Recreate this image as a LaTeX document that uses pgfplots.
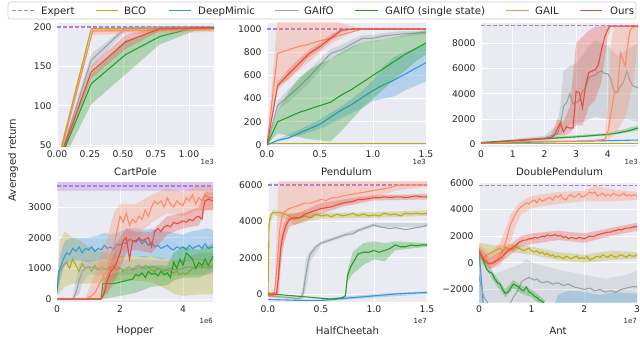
\documentclass[border=0pt]{standalone}
\usepackage{fontspec}
\setmainfont{DejaVu Sans}
\usepackage{pgfplots}
\pgfplotsset{compat=1.18}

\definecolor{bgc}{RGB}{234,234,242}
\definecolor{labc}{RGB}{38,38,38}
\definecolor{lgray}{RGB}{204,204,204}
\definecolor{cexp}{RGB}{176,122,220}
\definecolor{cbco}{RGB}{180,172,24}
\definecolor{cdm}{RGB}{52,152,219}
\definecolor{cgf}{RGB}{149,165,166}
\definecolor{cgs}{RGB}{34,160,34}
\definecolor{cgail}{RGB}{255,138,101}
\definecolor{cours}{RGB}{231,76,60}

\newcommand\tickfont{\fontsize{9.2}{11}\selectfont}
\newcommand\titlefont{\fontsize{10.2}{12}\selectfont}

\tikzset{
  offs/.style={font=\fontsize{7}{8}\selectfont, text=labc, anchor=north east, inner sep=0pt},
  legtxt/.style={font=\titlefont, text=labc, anchor=base west, inner sep=0pt},
}

\pgfplotsset{
  panel/.style={
    scale only axis, anchor=north west,
    axis background/.style={fill=bgc},
    axis line style={draw=none},
    tick style={draw=none}, major tick length=0pt,
    grid=major, grid style={white, line width=0.8pt},
    tick label style={font=\tickfont, text=labc},
    yticklabel style={xshift=-2pt},
    xlabel style={font=\titlefont, text=labc, at={(axis description cs:0.5,0)}, anchor=center},
    scaled ticks=false,
  },
  band/.style={draw=none, fill=#1, fill opacity=0.3, forget plot},
  ln/.style={draw=#1, line width=1.1pt, forget plot},
  exp/.style={draw=cexp, line width=1.1pt, dash pattern=on 4pt off 2pt, forget plot},
}

\begin{document}
\begin{tikzpicture}
\path[use as bounding box] (0pt,0pt) rectangle (640pt,356pt);

% legend
\draw[lgray, fill=white, rounded corners=2.5pt, line width=0.6pt] (8pt,337pt) rectangle (636pt,354pt);
\draw[cexp, line width=1.4pt, dash pattern=on 4pt off 2pt] (12pt,345.5pt) -- (35pt,345.5pt);
\node[legtxt] at (41pt,341.8pt) {Expert};
\draw[cbco, line width=1.4pt] (96pt,345.5pt) -- (118pt,345.5pt);
\node[legtxt] at (124pt,341.8pt) {BCO};
\draw[cdm, line width=1.4pt] (169pt,345.5pt) -- (191pt,345.5pt);
\node[legtxt] at (198pt,341.8pt) {DeepMimic};
\draw[cgf, line width=1.4pt] (275pt,345.5pt) -- (298pt,345.5pt);
\node[legtxt] at (304pt,341.8pt) {GAIfO};
\draw[cgs, line width=1.4pt] (355pt,345.5pt) -- (378pt,345.5pt);
\node[legtxt] at (385pt,341.8pt) {GAIfO (single state)};
\draw[cgail, line width=1.4pt] (506pt,345.5pt) -- (529pt,345.5pt);
\node[legtxt] at (535pt,341.8pt) {GAIL};
\draw[cours, line width=1.4pt] (580pt,345.5pt) -- (602pt,345.5pt);
\node[legtxt] at (610pt,341.8pt) {Ours};

\node[rotate=90, font=\titlefont, text=labc] at (13pt,196pt) {Averaged return};

% ---------------- CartPole
\begin{axis}[panel, at={(57pt,333pt)}, width=157pt, height=124pt,
  xmin=0, xmax=1.19, ymin=47.5, ymax=205.1,
  xtick={0,0.25,0.5,0.75,1}, xticklabels={0.00,0.25,0.50,0.75,1.00},
  ytick={50,100,150,200}, yticklabels={50,100,150,200},
  xlabel={CartPole}, xlabel style={yshift=-25pt},
  extra description/.code={\node[offs] at (1,0) [yshift=-12pt] {1e3};},
]
\addplot[exp] coordinates {(0,200)(1.19,200)};
\addplot[band=cbco] coordinates {(0,30)(0.26,200)(0.52,200)(0.78,200)(1.04,200)(1.19,200)(1.19,195)(1.04,195)(0.78,194.5)(0.52,194)(0.26,194)(0,20)};
\addplot[ln=cbco] coordinates {(0,25)(0.26,198)(0.52,198)(0.78,198)(1.04,198)(1.19,198)};
\addplot[band=cgf] coordinates {(0,25)(0.26,166)(0.52,200)(0.78,200)(1.04,200)(1.19,200)(1.19,199.5)(1.04,199.5)(0.78,199)(0.52,195)(0.26,148)(0,18)};
\addplot[ln=cgf] coordinates {(0,22)(0.26,158)(0.52,199)(0.78,200)(1.04,200)(1.19,200)};
\addplot[band=cgs] coordinates {(0,28)(0.26,140)(0.52,183)(0.78,197)(1.04,200)(1.19,200)(1.19,196)(1.04,195)(0.78,178)(0.52,140)(0.26,102)(0,15)};
\addplot[ln=cgs] coordinates {(0,22)(0.26,128)(0.52,165)(0.78,188)(1.04,199)(1.19,199)};
\addplot[band=cgail] coordinates {(0,26)(0.27,199)(0.52,199)(0.78,199.5)(1.04,200)(1.19,200)(1.19,194)(1.04,193)(0.78,192)(0.52,191)(0.27,190)(0,18)};
\addplot[ln=cgail] coordinates {(0,22)(0.27,195)(0.52,195.5)(0.78,196)(1.04,196.5)(1.19,197)};
\addplot[band=cours] coordinates {(0,25)(0.26,151)(0.52,190)(0.78,200)(1.04,200)(1.19,200)(1.19,198)(1.04,197.5)(0.78,195)(0.52,172)(0.26,135)(0,19)};
\addplot[ln=cours] coordinates {(0,22)(0.26,143)(0.52,181)(0.78,198)(1.04,199)(1.19,199)};
\end{axis}

% ---------------- Pendulum
\begin{axis}[panel, at={(267pt,333pt)}, width=159pt, height=124pt,
  xmin=0, xmax=1.5, ymin=-17, ymax=1052,
  xtick={0,0.5,1,1.5}, xticklabels={0.0,0.5,1.0,1.5},
  ytick={0,200,400,600,800,1000}, yticklabels={0,200,400,600,800,1000},
  xlabel={Pendulum}, xlabel style={yshift=-25pt},
  extra description/.code={\node[offs] at (1,0) [yshift=-12pt] {1e3};},
]
\addplot[exp] coordinates {(0,1000)(1.5,1000)};
\addplot[ln=cbco] coordinates {(0,15)(1.5,15)};
\addplot[band=cdm] coordinates {(0,0)(0.1,50)(0.3,130)(0.5,220)(0.7,330)(0.9,470)(1.0,560)(1.1,680)(1.2,760)(1.3,800)(1.4,830)(1.5,870)(1.5,550)(1.4,510)(1.3,470)(1.2,420)(1.1,400)(1.0,380)(0.9,320)(0.7,230)(0.5,140)(0.3,80)(0.1,30)(0,0)};
\addplot[ln=cdm] coordinates {(0,0)(0.1,40)(0.2,60)(0.3,100)(0.4,140)(0.5,180)(0.6,240)(0.7,300)(0.8,350)(0.9,410)(1.0,470)(1.1,520)(1.2,560)(1.3,610)(1.4,660)(1.5,710)};
\addplot[band=cgf] coordinates {(0,0)(0.1,380)(0.2,480)(0.3,560)(0.4,650)(0.5,740)(0.6,830)(0.7,860)(0.8,910)(0.9,950)(1.0,950)(1.1,965)(1.2,975)(1.3,985)(1.4,985)(1.5,990)(1.5,950)(1.4,945)(1.3,935)(1.2,925)(1.1,910)(1.0,890)(0.9,880)(0.8,830)(0.7,780)(0.6,740)(0.5,640)(0.4,540)(0.3,450)(0.2,370)(0.1,300)(0,0)};
\addplot[ln=cgf] coordinates {(0,0)(0.1,340)(0.2,420)(0.3,500)(0.4,590)(0.5,690)(0.6,790)(0.7,820)(0.8,870)(0.9,920)(1.0,920)(1.1,940)(1.2,950)(1.3,960)(1.4,965)(1.5,970)};
\addplot[band=cgs] coordinates {(0,0)(0.1,300)(0.2,450)(0.3,580)(0.4,650)(0.5,700)(0.6,740)(0.7,800)(0.8,850)(0.9,880)(1.0,900)(1.1,910)(1.2,930)(1.3,950)(1.4,970)(1.5,990)(1.5,780)(1.4,720)(1.3,640)(1.2,560)(1.1,480)(1.0,400)(0.9,320)(0.8,220)(0.7,120)(0.6,30)(0.5,40)(0.4,50)(0.3,70)(0.2,80)(0.1,100)(0,0)};
\addplot[ln=cgs] coordinates {(0,0)(0.1,200)(0.2,240)(0.3,280)(0.4,310)(0.5,340)(0.6,370)(0.7,430)(0.8,480)(0.9,540)(1.0,600)(1.1,660)(1.2,720)(1.3,780)(1.4,830)(1.5,880)};
\addplot[band=cgail] coordinates {(0,0)(0.1,1100)(0.5,1100)(0.7,1050)(0.9,1000)(1.5,1000)(1.5,1000)(0.9,1000)(0.8,970)(0.7,920)(0.6,870)(0.5,800)(0.4,720)(0.3,640)(0.2,560)(0.1,520)(0,0)};
\addplot[ln=cgail] coordinates {(0,0)(0.1,790)(0.2,820)(0.3,850)(0.4,870)(0.5,900)(0.6,920)(0.7,950)(0.8,975)(0.9,1000)(1.5,1000)};
\addplot[band=cours] coordinates {(0,0)(0.1,540)(0.2,650)(0.3,740)(0.4,820)(0.5,880)(0.6,950)(0.7,1000)(1.5,1000)(1.5,1000)(0.8,995)(0.7,975)(0.6,900)(0.5,820)(0.4,760)(0.3,660)(0.2,570)(0.1,480)(0,0)};
\addplot[ln=cours] coordinates {(0,0)(0.1,510)(0.2,610)(0.3,700)(0.4,790)(0.5,850)(0.6,920)(0.7,990)(0.8,1000)(1.5,1000)};
\end{axis}

% ---------------- DoublePendulum
\begin{axis}[panel, at={(481pt,333pt)}, width=157pt, height=124pt,
  xmin=0, xmax=4.95, ymin=-200, ymax=9600,
  xtick={0,1,2,3,4}, xticklabels={0,1,2,3,4},
  ytick={0,2000,4000,6000,8000}, yticklabels={0,2000,4000,6000,8000},
  xlabel={DoublePendulum}, xlabel style={yshift=-25pt},
  extra description/.code={\node[offs] at (1,0) [yshift=-12pt] {1e3};},
]
\addplot[exp] coordinates {(0,9370)(4.95,9370)};
\addplot[ln=cbco] coordinates {(0,80)(4.95,80)};
\addplot[ln=cdm] coordinates {(0,100)(1,150)(2,200)(3,250)(4,300)(4.95,350)};
\addplot[band=cgf] coordinates {(0,150)(2.0,700)(2.4,1500)(2.5,3000)(2.6,5800)(2.8,6200)(3.0,6400)(3.2,7000)(3.4,7800)(3.6,8200)(3.8,8000)(4.0,7800)(4.3,7000)(4.6,7500)(4.95,8000)(4.95,1800)(4.6,2000)(4.3,2000)(4.0,2000)(3.6,2200)(3.2,1800)(3.0,1700)(2.8,1600)(2.6,1200)(2.5,600)(2.4,500)(2.0,300)(0,50)};
\addplot[ln=cgf] coordinates {(0,100)(1,250)(1.5,350)(2,500)(2.2,700)(2.4,800)(2.5,1500)(2.6,3000)(2.7,3300)(2.8,4000)(2.9,3200)(3.0,3300)(3.1,3500)(3.2,4200)(3.3,4500)(3.4,5300)(3.5,5400)(3.6,5500)(3.7,5700)(3.8,5800)(3.9,5600)(4.0,5600)(4.1,5100)(4.2,4200)(4.3,4100)(4.4,4600)(4.5,5000)(4.6,5800)(4.7,5000)(4.8,4600)(4.95,4500)};
\addplot[band=cgs] coordinates {(0,200)(4,900)(4.95,1500)(4.95,1100)(4,700)(0,100)};
\addplot[ln=cgs] coordinates {(0,150)(1,300)(2,450)(3,600)(3.5,700)(4,800)(4.3,900)(4.6,1050)(4.95,1300)};
\addplot[band=cgail] coordinates {(3.8,350)(3.9,500)(4.0,3000)(4.1,8000)(4.2,9300)(4.95,9400)(4.95,8000)(4.8,5000)(4.6,2500)(4.4,1500)(4.2,800)(4.0,300)(3.8,200)};
\addplot[ln=cgail] coordinates {(0,100)(1,200)(2,250)(3,250)(3.5,300)(3.9,400)(4.0,1000)(4.1,2500)(4.2,4000)(4.3,4200)(4.4,7200)(4.5,6500)(4.55,6200)(4.6,7500)(4.7,9000)(4.8,9300)(4.95,9300)};
\addplot[band=cours] coordinates {(2.2,600)(2.4,2000)(2.6,1800)(2.8,3000)(3.0,8000)(3.2,8500)(3.4,9000)(3.6,9300)(4.0,9400)(4.95,9400)(4.95,9300)(4.1,9300)(4.0,8500)(3.8,5000)(3.6,3500)(3.4,3000)(3.2,1500)(3.0,1500)(2.8,900)(2.6,700)(2.4,800)(2.2,450)};
\addplot[ln=cours] coordinates {(0,100)(0.5,200)(1,300)(1.5,400)(2,480)(2.2,550)(2.3,700)(2.4,1200)(2.5,1700)(2.6,1000)(2.7,1400)(2.8,1300)(2.9,1300)(3.0,4200)(3.1,4100)(3.2,2900)(3.3,4700)(3.4,5700)(3.5,5800)(3.6,5900)(3.7,6300)(3.8,7500)(3.9,8500)(4.0,9100)(4.05,9350)(4.95,9350)};
\end{axis}

% ---------------- Hopper
\begin{axis}[panel, at={(57pt,174pt)}, width=156pt, height=120pt,
  xmin=0, xmax=4.95, ymin=-98, ymax=3815,
  xtick={0,2,4}, xticklabels={0,2,4},
  ytick={0,1000,2000,3000}, yticklabels={0,1000,2000,3000},
  xlabel={Hopper}, xlabel style={yshift=-29pt},
  extra description/.code={\node[offs] at (1,0) [yshift=-16pt] {1e6};},
]
\addplot[band=cexp] coordinates {(0,3800)(4.95,3800)(4.95,3530)(0,3530)};
\addplot[exp] coordinates {(0,3684)(4.95,3684)};
\addplot[band=cbco] coordinates {(0,600)(0.1,1900)(0.25,2200)(0.5,2000)(0.75,1900)(1.0,1700)(1.25,1600)(1.5,1500)(1.75,1500)(2.0,1400)(2.5,1400)(3.0,1400)(3.5,1300)(3.75,1200)(4.0,1300)(4.5,1500)(4.95,1500)(4.95,150)(4.5,150)(4.0,100)(3.75,150)(3.5,300)(3.0,550)(2.5,600)(2.0,600)(1.5,550)(1.0,500)(0.5,500)(0.25,400)(0,100)};
\addplot[ln=cbco] coordinates {(0,300)(0.1,900)(0.2,1100)(0.3,1200)(0.4,1000)(0.5,1300)(0.6,1100)(0.7,900)(0.8,1150)(0.9,1000)(1.0,1050)(1.1,900)(1.2,1100)(1.3,950)(1.4,1050)(1.5,1000)(1.6,950)(1.7,1000)(1.8,1050)(1.9,950)(2.0,1000)(2.1,900)(2.2,1000)(2.3,1050)(2.4,950)(2.5,1000)(2.6,1050)(2.7,1000)(2.8,1100)(2.9,1050)(3.0,950)(3.1,900)(3.2,1000)(3.3,950)(3.4,900)(3.5,950)(3.6,900)(3.7,850)(3.8,900)(3.9,800)(4.0,850)(4.1,800)(4.2,900)(4.3,1000)(4.4,1050)(4.5,1100)(4.6,1000)(4.7,1150)(4.8,1050)(4.95,1100)};
\addplot[band=cdm] coordinates {(0,300)(0.1,1400)(0.25,1900)(0.5,2000)(0.75,2000)(1.0,2000)(1.25,2050)(1.5,2150)(1.75,2100)(2.0,2200)(2.25,2300)(2.5,2300)(2.75,2250)(3.0,2300)(3.25,2200)(3.5,2200)(3.75,2150)(4.0,2100)(4.25,2200)(4.5,2250)(4.75,2300)(4.95,2250)(4.95,1250)(4.75,1250)(4.5,1250)(4.25,1250)(4.0,1200)(3.75,1200)(3.5,1300)(3.25,1300)(3.0,1400)(2.75,1350)(2.5,1400)(2.25,1400)(2.0,1350)(1.75,1250)(1.5,1300)(1.25,1250)(1.0,1200)(0.75,1250)(0.5,1250)(0.25,1100)(0.1,600)(0,100)};
\addplot[ln=cdm] coordinates {(0,200)(0.05,900)(0.1,1000)(0.2,1300)(0.3,1500)(0.4,1450)(0.5,1650)(0.6,1550)(0.7,1700)(0.8,1500)(0.9,1650)(1.0,1600)(1.1,1700)(1.2,1550)(1.3,1650)(1.4,1600)(1.5,1750)(1.6,1650)(1.7,1700)(1.8,1600)(1.9,1800)(2.0,1750)(2.1,1850)(2.2,1800)(2.3,1950)(2.4,1900)(2.5,1850)(2.6,1950)(2.7,1800)(2.8,1900)(2.9,1750)(3.0,1850)(3.1,1700)(3.2,1750)(3.3,1650)(3.4,1700)(3.5,1750)(3.6,1650)(3.7,1600)(3.8,1700)(3.9,1650)(4.0,1700)(4.1,1600)(4.2,1750)(4.3,1650)(4.4,1700)(4.5,1750)(4.6,1650)(4.7,1800)(4.8,1650)(4.95,1700)};
\addplot[band=cgf] coordinates {(0,0)(0.5,50)(0.6,600)(0.7,1100)(0.8,1300)(1.5,1250)(2.5,1300)(3.5,1250)(4.95,1300)(4.95,800)(3.5,750)(2.5,800)(1.5,750)(1.0,800)(0.8,500)(0.7,150)(0.5,0)(0,0)};
\addplot[ln=cgf] coordinates {(0,0)(0.5,0)(0.6,200)(0.7,600)(0.8,900)(0.9,1000)(1.0,1050)(1.2,1000)(1.4,950)(1.6,1000)(1.8,1100)(2.0,1000)(2.2,950)(2.4,1000)(2.6,1100)(2.8,1000)(3.0,1050)(3.2,1000)(3.4,950)(3.6,1000)(3.8,950)(4.0,1000)(4.2,1050)(4.4,1000)(4.6,1050)(4.8,1000)(4.95,1050)};
\addplot[band=cgs] coordinates {(1.4,0)(1.45,700)(2.0,900)(2.5,1000)(3.0,1100)(3.5,1100)(3.7,1500)(4.0,1700)(4.5,1600)(4.95,1800)(4.95,900)(4.5,700)(4.0,700)(3.7,600)(3.5,450)(3.0,400)(2.5,200)(2.0,100)(1.45,0)(1.4,0)};
\addplot[ln=cgs] coordinates {(0,0)(1.4,0)(1.45,500)(1.6,500)(1.8,500)(2.0,550)(2.2,600)(2.4,650)(2.5,800)(2.6,750)(2.7,850)(2.8,700)(2.9,900)(3.0,800)(3.1,850)(3.2,750)(3.3,900)(3.4,800)(3.5,850)(3.6,700)(3.7,1200)(3.8,1000)(3.9,1300)(4.0,1100)(4.1,1500)(4.2,1400)(4.3,1300)(4.4,1000)(4.5,1200)(4.6,1100)(4.7,1300)(4.8,1100)(4.95,1400)};
\addplot[band=cgail] coordinates {(0.9,0)(1.0,300)(1.2,800)(1.4,1500)(1.6,2000)(1.8,2800)(2.0,3100)(2.5,3100)(3.0,3400)(3.5,3600)(4.0,3500)(4.5,3700)(4.95,3700)(4.95,2900)(4.5,2900)(4.0,2700)(3.5,2800)(3.0,2500)(2.5,2000)(2.0,1500)(1.8,800)(1.6,200)(1.4,0)(0.9,0)};
\addplot[ln=cgail] coordinates {(0,0)(0.9,0)(1.0,50)(1.1,100)(1.2,200)(1.3,400)(1.4,600)(1.5,800)(1.6,1000)(1.7,1400)(1.8,1700)(1.9,2200)(2.0,2700)(2.1,2500)(2.2,2800)(2.3,2400)(2.4,2600)(2.5,2500)(2.6,2700)(2.7,2600)(2.8,2900)(2.9,2700)(3.0,3000)(3.1,3200)(3.2,3100)(3.3,3200)(3.4,3000)(3.5,3300)(3.6,3100)(3.7,3000)(3.8,3200)(3.9,3100)(4.0,3050)(4.1,3300)(4.2,3200)(4.3,3400)(4.4,3100)(4.5,3300)(4.6,3200)(4.7,3400)(4.8,3300)(4.95,3300)};
\addplot[band=cours] coordinates {(1.4,0)(1.6,900)(1.8,1500)(2.0,2000)(2.2,2300)(2.5,2200)(3.0,2200)(3.5,2700)(4.0,2800)(4.5,3000)(4.7,3500)(4.95,3500)(4.95,2900)(4.7,2900)(4.5,2400)(4.0,2300)(3.5,2100)(3.0,1500)(2.5,1600)(2.2,1500)(2.0,1000)(1.8,500)(1.6,200)(1.4,0)};
\addplot[ln=cours] coordinates {(0,0)(1.4,0)(1.5,200)(1.6,600)(1.7,900)(1.8,1000)(1.9,1200)(2.0,1500)(2.1,1900)(2.2,2000)(2.3,1300)(2.4,1900)(2.5,1900)(2.6,2000)(2.7,1900)(2.8,1950)(2.9,2000)(3.0,1700)(3.1,2200)(3.2,2300)(3.3,2200)(3.4,2350)(3.5,2400)(3.6,2350)(3.7,2500)(3.8,2450)(3.9,2500)(4.0,2550)(4.1,2500)(4.2,2600)(4.3,2550)(4.4,2650)(4.5,2700)(4.6,2600)(4.65,3000)(4.7,3200)(4.8,3250)(4.95,3200)};
\end{axis}

% ---------------- HalfCheetah
\begin{axis}[panel, at={(268pt,174pt)}, width=159pt, height=120pt,
  xmin=0, xmax=1.5, ymin=-440, ymax=6165,
  xtick={0,0.5,1,1.5}, xticklabels={0.0,0.5,1.0,1.5},
  ytick={0,2000,4000,6000}, yticklabels={0,2000,4000,6000},
  xlabel={HalfCheetah}, xlabel style={yshift=-29pt},
  extra description/.code={\node[offs] at (1,0) [yshift=-16pt] {1e7};},
]
\addplot[exp] coordinates {(0,6000)(1.5,6000)};
\addplot[band=cbco] coordinates {(0,0)(0.01,4200)(0.05,4650)(0.2,4450)(0.25,4400)(0.3,4500)(0.5,4450)(1.0,4500)(1.5,4600)(1.5,4300)(1.0,4200)(0.5,4150)(0.3,3900)(0.25,3800)(0.2,4100)(0.05,4350)(0.01,3600)(0,-200)};
\addplot[ln=cbco] coordinates {(0,-100)(0.01,3900)(0.03,4400)(0.05,4500)(0.08,4450)(0.1,4500)(0.15,4400)(0.2,4300)(0.25,4100)(0.3,4200)(0.35,4300)(0.4,4200)(0.45,4400)(0.5,4300)(0.55,4350)(0.6,4250)(0.65,4400)(0.7,4300)(0.75,4350)(0.8,4450)(0.85,4300)(0.9,4400)(0.95,4300)(1.0,4350)(1.05,4300)(1.1,4450)(1.15,4350)(1.2,4400)(1.25,4300)(1.3,4450)(1.35,4400)(1.4,4450)(1.45,4400)(1.5,4450)};
\addplot[band=cdm] coordinates {(0.5,-250)(1.0,0)(1.5,150)(1.5,0)(1.0,-200)(0.5,-400)};
\addplot[ln=cdm] coordinates {(0,-300)(0.3,-350)(0.5,-350)(0.6,-300)(0.7,-250)(0.8,-200)(0.9,-150)(1.0,-100)(1.1,-50)(1.2,0)(1.3,30)(1.4,60)(1.5,80)};
\addplot[band=cgf] coordinates {(0,-50)(0.3,-150)(0.33,400)(0.36,2000)(0.4,2400)(0.5,2900)(1.0,3900)(1.5,3900)(1.5,3700)(1.0,3700)(0.5,2700)(0.4,1800)(0.36,300)(0.33,-300)(0.3,-350)(0,-150)};
\addplot[ln=cgf] coordinates {(0,-100)(0.1,-150)(0.2,-200)(0.3,-250)(0.33,0)(0.35,800)(0.38,1800)(0.4,2200)(0.45,2600)(0.5,2800)(0.55,2900)(0.6,3000)(0.65,3100)(0.7,3200)(0.75,3300)(0.8,3300)(0.85,3500)(0.9,3600)(0.95,3700)(1.0,3800)(1.05,3700)(1.1,3650)(1.15,3600)(1.2,3650)(1.25,3600)(1.3,3550)(1.35,3600)(1.4,3650)(1.45,3700)(1.5,3800)};
\addplot[band=cgs] coordinates {(0.73,-50)(0.75,1300)(0.8,2300)(0.9,2800)(1.0,2900)(1.1,2800)(1.2,2900)(1.5,2800)(1.5,2600)(1.2,2400)(1.1,1800)(1.0,1900)(0.9,1600)(0.8,1100)(0.75,700)(0.73,-150)};
\addplot[ln=cgs] coordinates {(0,0)(0.1,-30)(0.2,-80)(0.3,-130)(0.4,-180)(0.5,-230)(0.6,-280)(0.65,-250)(0.7,-200)(0.73,-100)(0.75,1000)(0.78,1500)(0.8,1700)(0.83,2000)(0.85,2200)(0.9,2300)(0.95,2300)(1.0,2400)(1.05,2300)(1.1,2400)(1.15,2500)(1.2,2700)(1.25,2600)(1.3,2600)(1.35,2700)(1.4,2650)(1.45,2700)(1.5,2700)};
\addplot[band=cgail] coordinates {(0,0)(0.06,0)(0.08,3000)(0.1,6300)(1.5,6300)(1.5,5900)(1.2,5700)(1.0,5300)(0.8,5000)(0.5,4700)(0.3,4300)(0.2,4000)(0.13,2500)(0.1,500)(0.08,-200)(0,-200)};
\addplot[ln=cgail] coordinates {(0,-100)(0.05,-100)(0.07,500)(0.09,2000)(0.11,3500)(0.13,4200)(0.15,4500)(0.2,4700)(0.25,4800)(0.3,4900)(0.35,5000)(0.4,5000)(0.45,5100)(0.5,5200)(0.55,5150)(0.6,5300)(0.65,5300)(0.7,5400)(0.75,5450)(0.8,5500)(0.85,5550)(0.9,5600)(0.95,5650)(1.0,5700)(1.05,5750)(1.1,5800)(1.15,5850)(1.2,5950)(1.25,6000)(1.5,6000)};
\addplot[band=cours] coordinates {(0,100)(0.08,100)(0.1,2000)(0.12,3300)(0.15,3900)(0.2,4400)(0.3,4500)(0.5,5000)(0.7,5200)(1.0,5450)(1.5,5500)(1.5,5200)(1.0,5150)(0.7,4800)(0.5,4400)(0.3,3900)(0.2,3700)(0.15,2800)(0.12,1500)(0.1,0)(0.08,-100)(0,-100)};
\addplot[ln=cours] coordinates {(0,0)(0.08,0)(0.1,1000)(0.12,2500)(0.14,3200)(0.17,3800)(0.2,4100)(0.25,4200)(0.3,4200)(0.35,4400)(0.4,4500)(0.45,4600)(0.5,4700)(0.55,4750)(0.6,4800)(0.65,4900)(0.7,5000)(0.75,5050)(0.8,5100)(0.85,5200)(0.9,5200)(0.95,5250)(1.0,5300)(1.05,5300)(1.1,5350)(1.15,5300)(1.2,5350)(1.25,5350)(1.3,5300)(1.35,5350)(1.4,5400)(1.45,5350)(1.5,5350)};
\end{axis}

% ---------------- Ant
\begin{axis}[panel, at={(479pt,174pt)}, width=158pt, height=120pt,
  xmin=0, xmax=3, ymin=-2940, ymax=6050,
  xtick={0,1,2,3}, xticklabels={0,1,2,3},
  ytick={-2000,0,2000,4000,6000}, yticklabels={−2000,0,2000,4000,6000},
  xlabel={Ant}, xlabel style={yshift=-29pt},
  extra description/.code={\node[offs] at (1,0) [yshift=-16pt] {1e7};},
]
\addplot[exp] coordinates {(0,5760)(3,5760)};
\addplot[band=cbco] coordinates {(0,1500)(0.3,1300)(0.6,1400)(1.0,1200)(1.5,800)(2.0,600)(2.5,900)(3.0,800)(3.0,300)(2.5,200)(2.0,0)(1.5,200)(1.0,600)(0.6,800)(0.3,500)(0,-300)};
\addplot[ln=cbco] coordinates {(0,500)(0.05,300)(0.1,400)(0.15,600)(0.2,700)(0.25,800)(0.3,900)(0.35,1000)(0.4,1100)(0.45,900)(0.5,1200)(0.55,1000)(0.6,1100)(0.65,1000)(0.7,1200)(0.75,1100)(0.8,1000)(0.85,900)(0.9,1000)(0.95,1100)(1.0,900)(1.05,800)(1.1,900)(1.15,700)(1.2,800)(1.25,600)(1.3,700)(1.35,500)(1.4,600)(1.45,400)(1.5,500)(1.55,400)(1.6,300)(1.65,500)(1.7,400)(1.75,300)(1.8,400)(1.85,500)(1.9,300)(1.95,400)(2.0,300)(2.05,500)(2.1,200)(2.15,300)(2.2,400)(2.25,500)(2.3,400)(2.35,600)(2.4,500)(2.45,400)(2.5,600)(2.55,500)(2.6,400)(2.65,500)(2.7,600)(2.75,500)(2.8,400)(2.85,600)(2.9,500)(2.95,500)(3.0,600)};
\addplot[band=cdm] coordinates {(0,1100)(0.03,-300)(0.06,-1800)(0.09,-3500)(0,-3500)};
\addplot[band=cdm] coordinates {(1.4,-3500)(1.5,-2400)(1.7,-2100)(2.0,-2200)(2.3,-2400)(2.6,-2200)(3.0,-2300)(3.0,-3500)};
\addplot[ln=cdm] coordinates {(0,900)(0.03,-500)(0.06,-2000)(0.09,-3500)};
\addplot[band=cgf, fill opacity=0.22] coordinates {(0,1000)(0.2,-1000)(0.5,-500)(0.8,-100)(0.9,300)(1.0,0)(1.3,-300)(1.6,-600)(2.0,-900)(2.4,-1200)(2.8,-900)(3.0,-600)(3.0,-3500)(0,-3500)};
\addplot[ln=cgf] coordinates {(0,-1000)(0.05,-2000)(0.1,-2600)(0.15,-2900)(0.2,-3200)(0.4,-3300)(0.6,-3000)(0.65,-2600)(0.7,-2300)(0.75,-2000)(0.8,-1500)(0.85,-1300)(0.9,-1200)(0.95,-1100)(1.0,-1200)(1.05,-1300)(1.1,-1200)(1.15,-1400)(1.2,-1500)(1.3,-1400)(1.4,-1600)(1.5,-1500)(1.6,-1700)(1.7,-1600)(1.8,-1800)(1.9,-1900)(2.0,-2000)(2.1,-1900)(2.2,-2100)(2.3,-2000)(2.4,-2200)(2.5,-2100)(2.6,-2200)(2.7,-2000)(2.8,-1900)(2.9,-1800)(3.0,-1800)};
\addplot[band=cgs] coordinates {(0,1100)(0.1,300)(0.3,-900)(0.5,-2000)(0.65,-1300)(0.8,-1700)(1.0,-2000)(1.25,-2800)(1.25,-3400)(1.0,-2600)(0.8,-2300)(0.65,-1900)(0.5,-2600)(0.3,-1500)(0.1,-300)(0,700)};
\addplot[ln=cgs] coordinates {(0,900)(0.05,500)(0.1,0)(0.15,-500)(0.2,-700)(0.25,-800)(0.3,-1200)(0.35,-1500)(0.4,-1600)(0.45,-2000)(0.5,-2300)(0.55,-2200)(0.6,-1900)(0.65,-1600)(0.7,-1700)(0.75,-1800)(0.8,-2000)(0.85,-2100)(0.9,-1800)(0.95,-2200)(1.0,-2300)(1.05,-2500)(1.1,-2600)(1.15,-2800)(1.2,-2900)(1.25,-3100)};
\addplot[band=cgail] coordinates {(0,1400)(0.2,700)(0.4,1500)(0.5,2500)(0.6,3600)(0.7,4200)(0.8,4600)(1.0,5000)(1.5,5300)(2.0,5400)(2.2,5800)(2.5,5500)(3.0,5300)(3.0,4700)(2.5,4600)(2.0,4600)(1.5,4400)(1.0,4100)(0.8,3600)(0.7,2800)(0.6,1500)(0.5,500)(0.4,-200)(0.2,-500)(0,600)};
\addplot[ln=cgail] coordinates {(0,1000)(0.05,600)(0.1,300)(0.15,100)(0.2,0)(0.25,-100)(0.3,0)(0.35,200)(0.4,500)(0.45,900)(0.5,1500)(0.55,2200)(0.6,2900)(0.65,3300)(0.7,3700)(0.75,4000)(0.8,4200)(0.85,4300)(0.9,4500)(0.95,4400)(1.0,4600)(1.05,4700)(1.1,4500)(1.15,4800)(1.2,4600)(1.25,4700)(1.3,4800)(1.35,4900)(1.4,4700)(1.45,5000)(1.5,4900)(1.55,5100)(1.6,4800)(1.65,4700)(1.7,5000)(1.75,5100)(1.8,4900)(1.85,5000)(1.9,5200)(1.95,4900)(2.0,5000)(2.05,5100)(2.1,5300)(2.15,5200)(2.2,5300)(2.25,5000)(2.3,5100)(2.35,5200)(2.4,5000)(2.45,5100)(2.5,5000)(2.55,5200)(2.6,5100)(2.65,5000)(2.7,5100)(2.75,5200)(2.8,5000)(2.85,5100)(2.9,5000)(2.95,5100)(3.0,5000)};
\addplot[band=cours] coordinates {(0,1200)(0.2,300)(0.5,1100)(0.8,2000)(1.0,2200)(1.5,2400)(2.0,2200)(2.5,2600)(3.0,3000)(3.0,2400)(2.5,2000)(2.0,1500)(1.5,1700)(1.0,1400)(0.8,1200)(0.5,300)(0.2,-500)(0,600)};
\addplot[ln=cours] coordinates {(0,900)(0.05,500)(0.1,200)(0.15,0)(0.2,-100)(0.25,0)(0.3,100)(0.35,200)(0.4,300)(0.45,500)(0.5,700)(0.55,900)(0.6,1000)(0.65,1200)(0.7,1300)(0.75,1500)(0.8,1600)(0.85,1700)(0.9,1700)(0.95,1800)(1.0,1800)(1.05,1900)(1.1,1850)(1.15,1900)(1.2,2000)(1.25,1950)(1.3,2100)(1.35,2000)(1.4,2050)(1.45,2100)(1.5,2000)(1.55,2050)(1.6,1900)(1.65,1950)(1.7,1800)(1.75,1900)(1.8,1850)(1.85,1800)(1.9,1900)(1.95,1850)(2.0,1800)(2.05,1900)(2.1,2000)(2.15,1950)(2.2,2000)(2.25,2100)(2.3,2150)(2.35,2200)(2.4,2250)(2.45,2300)(2.5,2300)(2.55,2400)(2.6,2400)(2.65,2500)(2.7,2450)(2.75,2550)(2.8,2600)(2.85,2600)(2.9,2650)(2.95,2700)(3.0,2700)};
\end{axis}
\end{tikzpicture}
\end{document}
